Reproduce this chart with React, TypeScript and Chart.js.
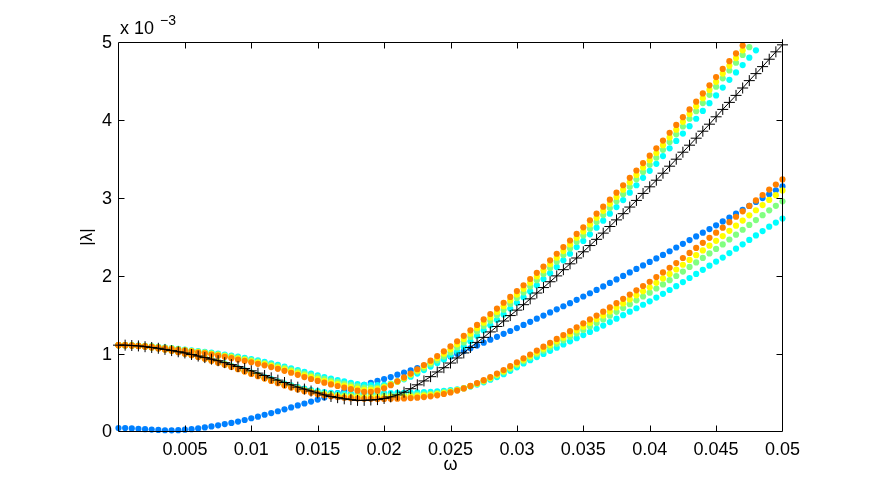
import React, { useEffect, useRef } from 'react';
import { Chart, registerables } from 'chart.js';
Chart.register(...registerables);

// angular frequency samples
const omega = [
  0, 0.0005, 0.001, 0.0015, 0.002, 0.0025, 0.003, 0.0035, 0.004, 0.0045,
  0.005, 0.0055, 0.006, 0.0065, 0.007, 0.0075, 0.008, 0.0085, 0.009, 0.0095,
  0.01, 0.0105, 0.011, 0.0115, 0.012, 0.0125, 0.013, 0.0135, 0.014, 0.0145,
  0.015, 0.0155, 0.016, 0.0165, 0.017, 0.0175, 0.018, 0.0185, 0.019, 0.0195,
  0.02, 0.0205, 0.021, 0.0215, 0.022, 0.0225, 0.023, 0.0235, 0.024, 0.0245,
  0.025, 0.0255, 0.026, 0.0265, 0.027, 0.0275, 0.028, 0.0285, 0.029, 0.0295,
  0.03, 0.0305, 0.031, 0.0315, 0.032, 0.0325, 0.033, 0.0335, 0.034, 0.0345,
  0.035, 0.0355, 0.036, 0.0365, 0.037, 0.0375, 0.038, 0.0385, 0.039, 0.0395,
  0.04, 0.0405, 0.041, 0.0415, 0.042, 0.0425, 0.043, 0.0435, 0.044, 0.0445,
  0.045, 0.0455, 0.046, 0.0465, 0.047, 0.0475, 0.048, 0.0485, 0.049, 0.0495,
  0.05,
];

// reference curve (black, '-+')
const refCurve = [
  1.11, 1.11, 1.105, 1.1, 1.09, 1.08, 1.07, 1.055, 1.04, 1.025,
  1.01, 0.99, 0.97, 0.95, 0.93, 0.91, 0.885, 0.86, 0.835, 0.81,
  0.78, 0.75, 0.72, 0.69, 0.66, 0.63, 0.6, 0.57, 0.545, 0.52,
  0.495, 0.47, 0.45, 0.435, 0.42, 0.41, 0.4, 0.4, 0.405, 0.41,
  0.425, 0.445, 0.47, 0.505, 0.55, 0.6, 0.65, 0.705, 0.765, 0.82,
  0.88, 0.945, 1.01, 1.08, 1.145, 1.21, 1.28, 1.35, 1.42, 1.49,
  1.56, 1.63, 1.705, 1.78, 1.85, 1.925, 2.0, 2.08, 2.155, 2.23,
  2.31, 2.39, 2.47, 2.55, 2.635, 2.72, 2.8, 2.885, 2.97, 3.06,
  3.145, 3.23, 3.32, 3.41, 3.5, 3.59, 3.68, 3.77, 3.86, 3.95,
  4.045, 4.14, 4.23, 4.32, 4.415, 4.51, 4.6, 4.69, 4.785, 4.88,
  4.97,
];

// blue series
const blueBranch = [
  0.045, 0.044, 0.04, 0.035, 0.03, 0.025, 0.02, 0.016, 0.015, 0.017,
  0.023, 0.03, 0.04, 0.052, 0.065, 0.08, 0.095, 0.11, 0.128, 0.148,
  0.17, 0.19, 0.215, 0.237, 0.26, 0.285, 0.31, 0.335, 0.36, 0.385,
  0.41, 0.437, 0.465, 0.492, 0.52, 0.547, 0.575, 0.6, 0.625, 0.65,
  0.675, 0.7, 0.73, 0.757, 0.785, 0.815, 0.845, 0.875, 0.905, 0.935,
  0.965, 1.0, 1.035, 1.07, 1.105, 1.142, 1.18, 1.217, 1.255, 1.292,
  1.33, 1.37, 1.41, 1.45, 1.49, 1.53, 1.57, 1.61, 1.65, 1.692,
  1.735, 1.777, 1.82, 1.865, 1.91, 1.955, 2.0, 2.045, 2.09, 2.135,
  2.18, 2.225, 2.27, 2.317, 2.365, 2.412, 2.46, 2.507, 2.555, 2.602,
  2.65, 2.7, 2.75, 2.8, 2.85, 2.9, 2.95, 3.0, 3.05, 3.1,
  3.15,
];

// upper branches (steep), shown until they leave the axes
const orangeUpper = [
  1.11, 1.108, 1.105, 1.1, 1.095, 1.088, 1.08, 1.07, 1.06, 1.05,
  1.04, 1.028, 1.015, 1.003, 0.99, 0.975, 0.96, 0.943, 0.925, 0.908,
  0.89, 0.87, 0.85, 0.828, 0.805, 0.78, 0.755, 0.728, 0.7, 0.675,
  0.65, 0.627, 0.605, 0.585, 0.565, 0.545, 0.525, 0.51, 0.51, 0.525,
  0.555, 0.595, 0.645, 0.695, 0.745, 0.8, 0.855, 0.91, 0.97, 1.03,
  1.095, 1.16, 1.23, 1.3, 1.37, 1.44, 1.51, 1.58, 1.655, 1.73,
  1.805, 1.88, 1.96, 2.04, 2.12, 2.2, 2.285, 2.37, 2.455, 2.54,
  2.625, 2.715, 2.8, 2.89, 2.98, 3.07, 3.165, 3.26, 3.355, 3.45,
  3.545, 3.64, 3.74, 3.84, 3.94, 4.04, 4.14, 4.24, 4.345, 4.45,
  4.555, 4.66, 4.76, 4.86, 4.96,
];
const yellowUpper = [
  1.11, 1.109, 1.106, 1.102, 1.097, 1.09, 1.083, 1.073, 1.064, 1.054,
  1.044, 1.033, 1.022, 1.01, 0.998, 0.984, 0.97, 0.954, 0.937, 0.921,
  0.903, 0.884, 0.865, 0.844, 0.822, 0.798, 0.774, 0.748, 0.722, 0.698,
  0.674, 0.651, 0.63, 0.61, 0.591, 0.571, 0.55, 0.535, 0.535, 0.545,
  0.57, 0.605, 0.64, 0.685, 0.735, 0.785, 0.84, 0.89, 0.945, 1.0,
  1.056, 1.12, 1.19, 1.258, 1.328, 1.398, 1.466, 1.536, 1.61, 1.685,
  1.76, 1.834, 1.912, 1.992, 2.072, 2.15, 2.234, 2.319, 2.404, 2.489,
  2.572, 2.661, 2.746, 2.836, 2.926, 3.014, 3.108, 3.203, 3.298, 3.393,
  3.487, 3.58, 3.68, 3.78, 3.88, 3.98, 4.08, 4.18, 4.284, 4.39,
  4.494, 4.6, 4.7, 4.8, 4.9,
];
const greenUpper = [
  1.11, 1.109, 1.107, 1.103, 1.098, 1.093, 1.085, 1.077, 1.068, 1.059,
  1.049, 1.038, 1.028, 1.018, 1.006, 0.993, 0.98, 0.965, 0.95, 0.934,
  0.917, 0.899, 0.88, 0.86, 0.839, 0.817, 0.794, 0.77, 0.745, 0.721,
  0.698, 0.676, 0.655, 0.635, 0.617, 0.598, 0.58, 0.565, 0.56, 0.565,
  0.58, 0.61, 0.645, 0.68, 0.725, 0.77, 0.815, 0.865, 0.915, 0.965,
  1.017, 1.08, 1.145, 1.216, 1.286, 1.356, 1.423, 1.493, 1.565, 1.64,
  1.715, 1.787, 1.864, 1.944, 2.024, 2.1, 2.183, 2.268, 2.353, 2.438,
  2.52, 2.607, 2.692, 2.782, 2.872, 2.959, 3.051, 3.146, 3.241, 3.336,
  3.428, 3.52, 3.62, 3.72, 3.82, 3.92, 4.02, 4.117, 4.222, 4.327,
  4.432, 4.54, 4.64, 4.74, 4.84, 4.94,
];
const cyanUpper = [
  1.11, 1.11, 1.108, 1.105, 1.1, 1.095, 1.088, 1.08, 1.072, 1.063,
  1.053, 1.043, 1.035, 1.025, 1.014, 1.002, 0.99, 0.976, 0.962, 0.947,
  0.93, 0.913, 0.895, 0.876, 0.856, 0.835, 0.813, 0.79, 0.767, 0.744,
  0.722, 0.7, 0.68, 0.66, 0.643, 0.625, 0.61, 0.6, 0.595, 0.595,
  0.6, 0.615, 0.64, 0.67, 0.705, 0.745, 0.79, 0.835, 0.88, 0.925,
  0.975, 1.03, 1.09, 1.16, 1.23, 1.3, 1.365, 1.435, 1.505, 1.58,
  1.655, 1.725, 1.8, 1.88, 1.96, 2.035, 2.115, 2.2, 2.285, 2.37,
  2.45, 2.535, 2.62, 2.71, 2.8, 2.885, 2.975, 3.07, 3.165, 3.26,
  3.35, 3.44, 3.54, 3.64, 3.735, 3.83, 3.925, 4.02, 4.12, 4.22,
  4.32, 4.42, 4.52, 4.615, 4.71, 4.805, 4.9,
];

// lower branches (slower)
const orangeLower = [
  1.11, 1.11, 1.105, 1.098, 1.09, 1.08, 1.068, 1.053, 1.037, 1.02,
  1.0, 0.98, 0.958, 0.935, 0.91, 0.885, 0.858, 0.83, 0.8, 0.77,
  0.74, 0.71, 0.68, 0.65, 0.62, 0.59, 0.565, 0.54, 0.518, 0.498,
  0.48, 0.465, 0.452, 0.442, 0.434, 0.428, 0.424, 0.421, 0.42, 0.419,
  0.419, 0.42, 0.422, 0.425, 0.429, 0.435, 0.442, 0.452, 0.465, 0.482,
  0.502, 0.526, 0.554, 0.586, 0.622, 0.66, 0.7, 0.745, 0.79, 0.84,
  0.89, 0.94, 0.99, 1.04, 1.09, 1.14, 1.19, 1.24, 1.29, 1.34,
  1.39, 1.44, 1.49, 1.54, 1.595, 1.65, 1.705, 1.76, 1.815, 1.87,
  1.925, 1.985, 2.045, 2.105, 2.165, 2.23, 2.295, 2.36, 2.425, 2.49,
  2.555, 2.62, 2.69, 2.76, 2.83, 2.9, 2.97, 3.04, 3.11, 3.175,
  3.24,
];
const yellowLower = [
  1.11, 1.11, 1.105, 1.099, 1.091, 1.081, 1.069, 1.055, 1.039, 1.022,
  1.003, 0.983, 0.961, 0.938, 0.914, 0.889, 0.862, 0.834, 0.804, 0.775,
  0.745, 0.715, 0.686, 0.656, 0.627, 0.597, 0.573, 0.548, 0.527, 0.508,
  0.491, 0.476, 0.464, 0.455, 0.449, 0.444, 0.441, 0.44, 0.44, 0.439,
  0.44, 0.441, 0.443, 0.445, 0.449, 0.454, 0.46, 0.469, 0.48, 0.494,
  0.51, 0.531, 0.555, 0.584, 0.617, 0.652, 0.69, 0.732, 0.775, 0.823,
  0.872, 0.922, 0.969, 1.016, 1.064, 1.111, 1.159, 1.206, 1.253, 1.301,
  1.348, 1.395, 1.443, 1.49, 1.542, 1.594, 1.646, 1.698, 1.75, 1.803,
  1.854, 1.911, 1.968, 2.025, 2.082, 2.143, 2.205, 2.266, 2.328, 2.389,
  2.451, 2.512, 2.579, 2.645, 2.711, 2.778, 2.844, 2.91, 2.976, 3.038,
  3.099,
];
const greenLower = [
  1.11, 1.11, 1.106, 1.099, 1.092, 1.082, 1.071, 1.056, 1.041, 1.024,
  1.005, 0.986, 0.964, 0.942, 0.917, 0.893, 0.866, 0.838, 0.809, 0.78,
  0.75, 0.721, 0.691, 0.662, 0.633, 0.605, 0.581, 0.557, 0.536, 0.518,
  0.501, 0.488, 0.477, 0.469, 0.464, 0.46, 0.459, 0.459, 0.459, 0.46,
  0.461, 0.462, 0.463, 0.465, 0.468, 0.473, 0.478, 0.485, 0.494, 0.506,
  0.519, 0.536, 0.556, 0.582, 0.611, 0.644, 0.68, 0.72, 0.76, 0.806,
  0.854, 0.904, 0.949, 0.993, 1.038, 1.082, 1.127, 1.172, 1.217, 1.261,
  1.306, 1.35, 1.395, 1.44, 1.489, 1.538, 1.587, 1.637, 1.686, 1.735,
  1.784, 1.838, 1.891, 1.945, 1.999, 2.056, 2.115, 2.173, 2.231, 2.289,
  2.347, 2.405, 2.468, 2.53, 2.593, 2.655, 2.718, 2.78, 2.843, 2.901,
  2.959,
];
const cyanLower = [
  1.11, 1.11, 1.106, 1.1, 1.093, 1.084, 1.073, 1.059, 1.044, 1.028,
  1.009, 0.99, 0.969, 0.947, 0.923, 0.899, 0.872, 0.845, 0.816, 0.787,
  0.758, 0.729, 0.7, 0.672, 0.644, 0.616, 0.593, 0.57, 0.55, 0.533,
  0.518, 0.506, 0.496, 0.49, 0.487, 0.486, 0.486, 0.488, 0.49, 0.492,
  0.494, 0.495, 0.496, 0.497, 0.499, 0.502, 0.506, 0.511, 0.517, 0.524,
  0.532, 0.543, 0.557, 0.578, 0.603, 0.632, 0.665, 0.7, 0.737, 0.78,
  0.825, 0.875, 0.916, 0.956, 0.997, 1.037, 1.078, 1.118, 1.159, 1.199,
  1.24, 1.28, 1.321, 1.361, 1.406, 1.45, 1.495, 1.54, 1.584, 1.629,
  1.673, 1.722, 1.77, 1.819, 1.868, 1.92, 1.973, 2.026, 2.078, 2.131,
  2.184, 2.236, 2.293, 2.35, 2.406, 2.463, 2.52, 2.576, 2.633, 2.686,
  2.738,
];

const xTicks = [0.005, 0.01, 0.015, 0.02, 0.025, 0.03, 0.035, 0.04, 0.045, 0.05];
const xTickLabels = ['0.005', '0.01', '0.015', '0.02', '0.025', '0.03', '0.035', '0.04', '0.045', '0.05'];
const yTicks = [0, 1, 2, 3, 4, 5];
const yTickLabels = ['0', '1', '2', '3', '4', '5'];

const xTitle = 'ω';
const yTitle = '|λ|';
const expBase = 'x 10';
const expPow = '−3';

const COLORS = {
  blue: '#0080ff',
  cyan: '#00ffff',
  green: '#80ff80',
  yellow: '#ffff00',
  orange: '#ff8000',
  black: '#000000',
};

const FONT = '"Liberation Sans", Arial, Helvetica, sans-serif';

function pts(ys: number[]) {
  return ys.map((y, i) => ({ x: omega[i], y }));
}

function dots(data: number[], color: string, order: number) {
  return {
    data: pts(data),
    showLine: false,
    pointStyle: 'circle',
    pointRadius: 3.1,
    pointBorderWidth: 0,
    pointBackgroundColor: color,
    pointBorderColor: color,
    backgroundColor: color,
    borderColor: color,
    order,
    clip: false,
  };
}

const framePlugin = {
  id: 'matlabFrame',
  afterDatasetsDraw(chart: any) {
    const { ctx, chartArea: a, scales } = chart;
    const xs = scales.x;
    const ys = scales.y;
    const L = a.left, R = a.right, T = a.top, B = a.bottom;
    const TL = 6;
    ctx.save();
    ctx.strokeStyle = '#000';
    ctx.lineWidth = 1;
    ctx.beginPath();
    ctx.rect(L, T, R - L, B - T);
    xs.ticks.forEach((t: any) => {
      const x = Math.round(xs.getPixelForValue(t.value)) + 0.5;
      if (x <= L + 1 || x >= R - 1) return;
      ctx.moveTo(x, B);
      ctx.lineTo(x, B - TL);
      ctx.moveTo(x, T);
      ctx.lineTo(x, T + TL);
    });
    ys.ticks.forEach((t: any) => {
      const y = Math.round(ys.getPixelForValue(t.value)) + 0.5;
      if (y <= T + 1 || y >= B - 1) return;
      ctx.moveTo(L, y);
      ctx.lineTo(L + TL, y);
      ctx.moveTo(R, y);
      ctx.lineTo(R - TL, y);
    });
    ctx.stroke();

    ctx.fillStyle = '#000';
    ctx.font = `18px ${FONT}`;
    ctx.textAlign = 'center';
    ctx.textBaseline = 'alphabetic';
    xs.ticks.forEach((t: any) => {
      const idx = xTicks.findIndex((v) => Math.abs(v - t.value) < 1e-9);
      if (idx < 0) return;
      ctx.fillText(xTickLabels[idx], xs.getPixelForValue(t.value), B + 23.5);
    });
    ctx.textAlign = 'right';
    ctx.textBaseline = 'middle';
    ys.ticks.forEach((t: any) => {
      const idx = yTicks.findIndex((v) => Math.abs(v - t.value) < 1e-9);
      if (idx < 0) return;
      ctx.fillText(yTickLabels[idx], L - 6.5, ys.getPixelForValue(t.value) + 1);
    });

    // exponent label
    ctx.textAlign = 'left';
    ctx.textBaseline = 'alphabetic';
    ctx.font = `18px ${FONT}`;
    ctx.fillText(expBase, L + 1.5, T - 9);
    const w = ctx.measureText(expBase).width;
    ctx.font = `14px ${FONT}`;
    ctx.fillText(expPow, L + 1.5 + w + 6, T - 18);

    // axis titles
    ctx.font = `18px ${FONT}`;
    ctx.textAlign = 'center';
    ctx.fillText(xTitle, (L + R) / 2, B + 38);
    ctx.save();
    ctx.translate(L - 31, (T + B) / 2);
    ctx.rotate(-Math.PI / 2);
    ctx.textBaseline = 'middle';
    ctx.font = `17px ${FONT}`;
    ctx.fillText(yTitle, 0, 0);
    ctx.restore();
    ctx.restore();
  },
};

export default function App() {
  const ref = useRef<HTMLCanvasElement | null>(null);
  useEffect(() => {
    document.body.style.margin = '0';
    const canvas = ref.current;
    if (!canvas) return;
    const chart = new Chart(canvas, {
      type: 'scatter',
      data: {
        datasets: [
          {
            data: pts(refCurve),
            showLine: true,
            borderColor: COLORS.black,
            borderWidth: 1,
            pointStyle: 'cross',
            pointRadius: 5.5,
            pointBorderWidth: 1,
            pointBorderColor: COLORS.black,
            pointBackgroundColor: COLORS.black,
            backgroundColor: COLORS.black,
            order: 0,
            clip: false,
            tension: 0,
          } as any,
          dots(orangeUpper, COLORS.orange, 1),
          dots(orangeLower, COLORS.orange, 1),
          dots(yellowUpper, COLORS.yellow, 2),
          dots(yellowLower, COLORS.yellow, 2),
          dots(greenUpper, COLORS.green, 3),
          dots(greenLower, COLORS.green, 3),
          dots(cyanUpper, COLORS.cyan, 4),
          dots(cyanLower, COLORS.cyan, 4),
          dots(blueBranch, COLORS.blue, 5),
        ],
      },
      options: {
        animation: false,
        responsive: false,
        events: [],
        layout: { padding: { left: 118.5, right: 89.5, top: 42.5, bottom: 56.5 } },
        plugins: { legend: { display: false }, tooltip: { enabled: false } },
        scales: {
          x: {
            type: 'linear',
            display: false,
            min: 0,
            max: 0.05,
            afterBuildTicks: (scale: any) => {
              scale.ticks = xTicks.map((v) => ({ value: v }));
            },
          },
          y: {
            type: 'linear',
            display: false,
            min: 0,
            max: 5,
            afterBuildTicks: (scale: any) => {
              scale.ticks = yTicks.map((v) => ({ value: v }));
            },
          },
        },
      } as any,
      plugins: [framePlugin],
    });
    return () => chart.destroy();
  }, []);
  return (
    <div style={{ position: 'fixed', left: 0, top: 0, width: 872, height: 488, background: '#fff' }}>
      <canvas ref={ref} width={872} height={488} style={{ width: 872, height: 488 }} />
    </div>
  );
}
